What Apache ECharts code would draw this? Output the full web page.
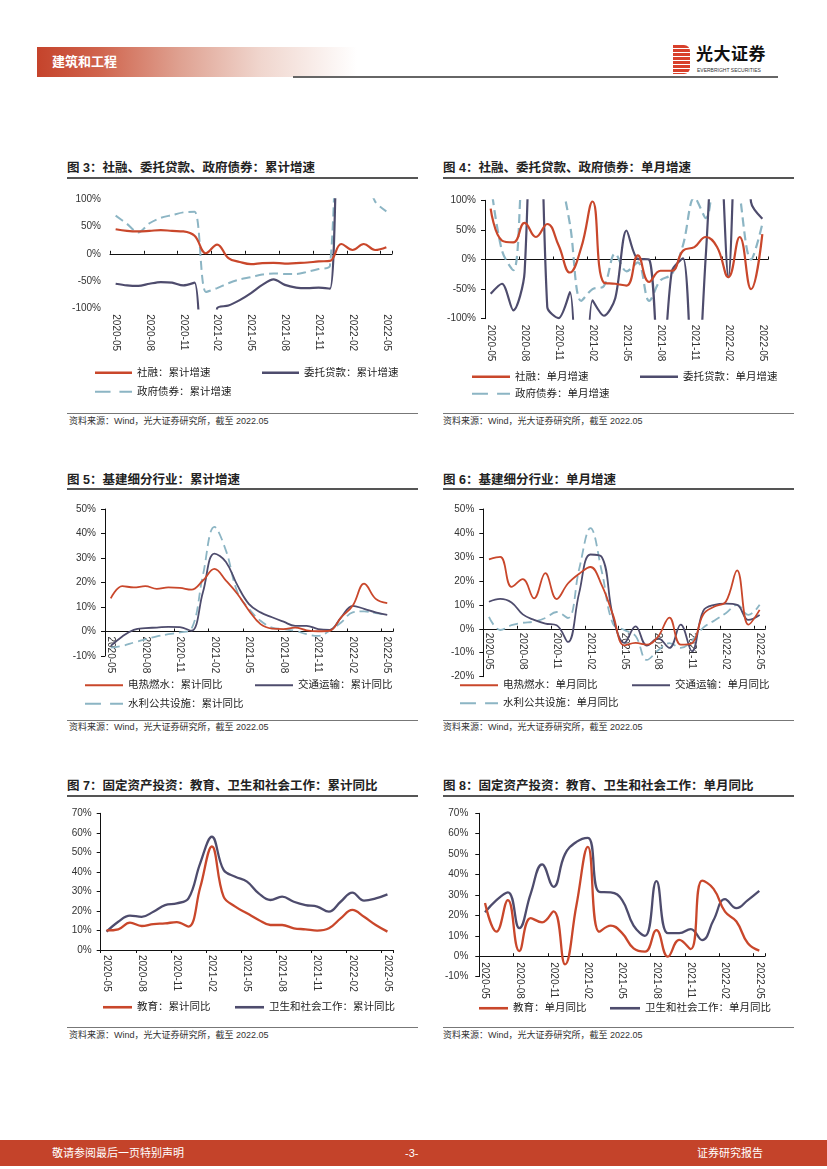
<!DOCTYPE html>
<html><head><meta charset="utf-8">
<script src="https://cdn.jsdelivr.net/npm/echarts/dist/echarts.min.js"></script>
<style>
body{margin:0;background:#fff;}
#page{position:relative;width:827px;height:1169px;overflow:hidden;background:#fff;font-family:'Liberation Sans','Noto Sans CJK SC',sans-serif;}
.a{position:absolute;}
.title{font-size:12.5px;font-weight:bold;color:#222;white-space:nowrap;line-height:14px;}
.rule{height:1.5px;background:#555;}
.srule{height:1px;background:#777;}
.src{font-size:9px;color:#333;white-space:nowrap;line-height:11px;}
.ch{position:absolute;width:360px;height:225px;}
.chr{position:absolute;width:380px;height:225px;}
</style></head>
<body><div id="page">
<!-- header -->
<div class="a" style="left:37px;top:47px;width:320px;height:30px;background:linear-gradient(to right,#C5432B 0%,#D0654E 20%,#DFA292 45%,#F0D6CE 70%,#FFFFFF 100%);"></div>
<div class="a" style="left:52px;top:53px;font-size:13px;font-weight:bold;color:#fff;line-height:17px;">建筑和工程</div>
<div class="a" style="left:293px;top:76px;width:485px;height:1.8px;background:#666;"></div>
<div class="a" style="left:673px;top:45px;width:17px;height:29px;background:repeating-linear-gradient(to bottom,#D8402B 0px,#D8402B 3px,#fff 3px,#fff 4px);border-radius:0 6px 6px 0;"></div>
<div class="a" style="left:696px;top:45px;font-size:17px;font-weight:bold;color:#111;line-height:20px;letter-spacing:0.5px;">光大证券</div>
<div class="a" style="left:697px;top:67px;font-size:5px;color:#333;line-height:6px;white-space:nowrap;">EVERBRIGHT SECURITIES</div>

<!-- titles -->
<div class="a title" style="left:67px;top:161px;">图 3：社融、委托贷款、政府债券：累计增速</div>
<div class="a title" style="left:443px;top:161px;">图 4：社融、委托贷款、政府债券：单月增速</div>
<div class="a rule" style="left:67px;top:177px;width:351px;"></div>
<div class="a rule" style="left:443px;top:177px;width:351px;"></div>
<div class="a srule" style="left:67px;top:413px;width:351px;"></div>
<div class="a srule" style="left:443px;top:413px;width:351px;"></div>
<div class="a src" style="left:69px;top:416px;">资料来源：Wind，光大证券研究所，截至 2022.05</div>
<div class="a src" style="left:443px;top:416px;">资料来源：Wind，光大证券研究所，截至 2022.05</div>

<div class="a title" style="left:67px;top:473px;">图 5：基建细分行业：累计增速</div>
<div class="a title" style="left:443px;top:473px;">图 6：基建细分行业：单月增速</div>
<div class="a rule" style="left:67px;top:488px;width:351px;"></div>
<div class="a rule" style="left:443px;top:488px;width:351px;"></div>
<div class="a srule" style="left:67px;top:720px;width:351px;"></div>
<div class="a srule" style="left:443px;top:720px;width:351px;"></div>
<div class="a src" style="left:69px;top:722px;">资料来源：Wind，光大证券研究所，截至 2022.05</div>
<div class="a src" style="left:443px;top:722px;">资料来源：Wind，光大证券研究所，截至 2022.05</div>

<div class="a title" style="left:67px;top:779px;">图 7：固定资产投资：教育、卫生和社会工作：累计同比</div>
<div class="a title" style="left:443px;top:779px;">图 8：固定资产投资：教育、卫生和社会工作：单月同比</div>
<div class="a rule" style="left:67px;top:795px;width:351px;"></div>
<div class="a rule" style="left:443px;top:795px;width:351px;"></div>
<div class="a srule" style="left:67px;top:1027px;width:351px;"></div>
<div class="a srule" style="left:443px;top:1027px;width:351px;"></div>
<div class="a src" style="left:69px;top:1030px;">资料来源：Wind，光大证券研究所，截至 2022.05</div>
<div class="a src" style="left:443px;top:1030px;">资料来源：Wind，光大证券研究所，截至 2022.05</div>

<div id="c3" class="ch" style="left:60px;top:185px;"></div>
<div id="c4" class="chr" style="left:440px;top:185px;"></div>
<div id="c5" class="ch" style="left:60px;top:495px;"></div>
<div id="c6" class="chr" style="left:440px;top:495px;"></div>
<div id="c7" class="ch" style="left:60px;top:800px;"></div>
<div id="c8" class="chr" style="left:440px;top:800px;"></div>

<!-- footer -->
<div class="a" style="left:0;top:1140px;width:827px;height:26px;background:#C4432A;"></div>
<div class="a" style="left:52px;top:1146px;font-size:11px;color:#fff;line-height:14px;">敬请参阅最后一页特别声明</div>
<div class="a" style="left:405px;top:1146px;font-size:11px;color:#fff;line-height:14px;">-3-</div>
<div class="a" style="left:697px;top:1146px;font-size:11px;color:#fff;line-height:14px;">证券研究报告</div>
</div>
<script>
// ---------- data ----------
const months = ['2020-05','2020-06','2020-07','2020-08','2020-09','2020-10','2020-11','2020-12','2021-01','2021-02','2021-03','2021-04','2021-05','2021-06','2021-07','2021-08','2021-09','2021-10','2021-11','2021-12','2022-01','2022-02','2022-03','2022-04','2022-05'];

const c3Names = ['社融：累计增速','委托贷款：累计增速','政府债券：累计增速'];
const c3Social  = [45,42,41,42,43.5,42,41,33,1,17,-8,-15,-19,-17,-16.5,-18,-17,-16,-14,-13,18,7,18,7,12];
const c3Entrust = [-55,-58,-59,-55,-52,-53,-58,-53,-400,-100,-95,-85,-72,-57,-47,-57,-62,-63,-62,-64,350,300,260,230,210];
const c3Gov     = [70,55,39,56,66,71,76,77,-70,-63,-54,-47,-43,-38,-36,-37,-37,-33,-28,-22,380,280,160,96,78];

const c4Names = ['社融：单月增速','委托贷款：单月增速','政府债券：单月增速'];
const c4Social  = [86,32,29,62,38,60,24,-22,20,98,-39,-41,-44,7,-38,-19,-19,15,21,38,21,-30,38,-50,43];
const c4Entrust = [-58,-41,-86,-21,600,-80,-99,-55,-500,-69,-95,-66,49,1,0,-250,-20,2,-290,5,300,-30,400,97,69];
const c4Gov     = [130,15,-18,200,250,200,150,60,-70,-50,-45,10,-20,-5,-70,-35,-25,25,105,70,200,250,110,0,60];

const c5Names = ['电热燃水：累计同比','交通运输：累计同比','水利公共设施：累计同比'];
const c5Power     = [13.5,18.5,18,18.5,17.4,18,17.8,17.1,20.8,25.6,20.8,15.3,8.5,3,1.2,1,1.6,0.5,0.1,0.3,5.8,10.5,19.5,13.3,11.6];
const c5Transport = [-5.9,-2,0.7,1.4,1.6,1.9,1.8,0.3,16,31.8,28.4,18.8,11.2,7.8,5.8,4,2.3,2.3,1,0.7,5.8,10.5,9.2,7.8,6.8];
const c5Water     = [-6.6,-5.9,-4.5,-3.2,-2,-1.1,-0.4,1,23,42.7,33,16,9.2,4.4,1.6,1,0.3,-1.1,-1.8,0.3,3.7,7.8,8.2,7.5,6.8];

const c6Names = ['电热燃水：单月同比','交通运输：单月同比','水利公共设施：单月同比'];
const c6Power     = [29,30,17.5,20.7,12.7,23.2,12.4,18.9,23,25.8,18.2,5.8,-6.9,-5.9,-6.6,-3.2,4.7,-6.6,-6,6,9.3,11.3,24.4,1.7,7.9];
const c6Transport = [11.3,12.5,11,6,3.7,2.2,1.5,-5.5,15,31,30,5,-5.9,1,-7,-4,-8,1.7,-9.4,7.5,10,10.5,10,3.7,5.8];
const c6Water     = [5,-0.5,1.5,2.5,3,4.5,7,4.5,25,42,24,2,-0.5,-3,-13,-9,-6,-8,-5,0.5,3.5,6.5,10,5.8,10];

const c7Names = ['教育：累计同比','卫生和社会工作：累计同比'];
const c7Edu    = [10,10.6,14,12.3,13.3,13.6,14.3,12,32,53,27.3,22.2,18.8,15.4,12.8,12.8,11.1,10.6,9.9,11.1,16.2,20.5,17,12.8,9.4];
const c7Health = [9.4,14.5,17.6,17,19.6,23,23.9,26.4,44.4,58,41,37.5,35,29,25.6,27.3,24.7,23,22.2,19.6,24.7,29.4,25.3,26.4,28.5];

const c8Names = ['教育：单月同比','卫生和社会工作：单月同比'];
const c8Edu    = [26,12,27.5,2.5,18.6,16.6,22,-4,25,53.6,12,15,11.3,3.8,2.2,12.8,-0.2,8,3.5,37,33,21.8,17,6.3,2.7];
const c8Health = [21.5,27.5,31.3,13.7,30.7,45,34,50,56,58,31.5,31.3,27.5,15,10,36.8,11.3,11.3,13.3,7.9,17.7,28,23.5,27.5,32];

// ---------- styles ----------
const FONT = "'Liberation Sans','Noto Sans CJK SC',sans-serif";
const TXT = '#333';
const RED = '#C9472B', DARK = '#4E4C6D', BLUE = '#8CB5C4';
const ICON_SOLID = 'path://M0,0H100V10H0Z';
const ICON_DASH = 'path://M0,0H42V10H0Z M66,0H100V10H66Z';

function lineSeries(name, data, color, width, dashed, smooth) {
  return {
    name, type:'line', data, xAxisIndex:0, yAxisIndex:0,
    symbol:'none', showSymbol:false, smooth: smooth, clip:true,
    lineStyle:{color, width, type: dashed ? [9,5] : 'solid', cap:'butt'},
    itemStyle:{color},
    emphasis:{disabled:true}, silent:true, z: dashed ? 2 : 3
  };
}

function build(id, cfg) {
  const chart = echarts.init(document.getElementById(id));
  const g = cfg.grid;
  chart.setOption({
    animation:false,
    grid:[
      {left:g[0], top:g[1], width:g[2], height:g[3], containLabel:false, outerBoundsMode:'none'},
      {left:g[0], top:cfg.labelY - 1, width:g[2], height:1, containLabel:false, outerBoundsMode:'none'}
    ],
    xAxis:[
      {type:'category', data:months, boundaryGap:true, position:'bottom', gridIndex:0,
       axisLine:{show:true, onZero:true, lineStyle:{color:'#111', width:1}},
       axisTick:{show:true, interval:2, inside:cfg.tickInside, length:3, lineStyle:{color:'#111'}},
       axisLabel:{show:false}, splitLine:{show:false}},
      {type:'category', data:months, boundaryGap:true, position:'bottom', gridIndex:1,
       axisLine:{show:false, onZero:false}, axisTick:{show:false},
       axisLabel:{interval:2, rotate:-90, margin:cfg.xMargin, fontSize:10, color:TXT, fontFamily:FONT},
       splitLine:{show:false}}
    ],
    yAxis:[
      {type:'value', gridIndex:0, min:cfg.y[0], max:cfg.y[1], interval:cfg.y[2],
       axisLine:{show:cfg.yLine, lineStyle:{color:'#111', width:1}},
       axisTick:{show:cfg.yLine, length:4, lineStyle:{color:'#111'}},
       splitLine:{show:false},
       axisLabel:{formatter:'{value}%', margin:cfg.yMargin, fontSize:10, color:TXT, fontFamily:FONT}},
      {type:'value', gridIndex:1, min:0, max:1, show:false}
    ],
    legend: cfg.legends.map(l => ({
      data:[{name:l.name, icon: l.dash ? ICON_DASH : ICON_SOLID}],
      left:l.left, top:l.top, itemWidth:l.w, itemHeight:l.h || 2.6, symbolKeepAspect:false, padding:0,
      selectedMode:false, textStyle:{fontSize:10.5, color:'#222', fontFamily:FONT}
    })),
    series: cfg.series
  });
}

build('c3', {
  grid:[50,14.3,282,109], labelY:123.3, y:[-100,100,50], yLine:false, yMargin:9, xMargin:6, tickInside:true,
  legends:[{name:c3Names[0],left:35,top:182.5,w:37},{name:c3Names[1],left:202,top:182.5,w:37},{name:c3Names[2],left:35,top:201.5,w:37,dash:true,h:2.2}],
  series:[
    lineSeries(c3Names[2], c3Gov, BLUE, 2, true, 0.3),
    lineSeries(c3Names[1], c3Entrust, DARK, 2.2, false, 0.3),
    lineSeries(c3Names[0], c3Social, RED, 2.2, false, 0.4)
  ]
});
build('c4', {
  grid:[45,15.3,283,118.4], labelY:133.7, y:[-100,100,50], yLine:true, yMargin:9, xMargin:6, tickInside:true,
  legends:[{name:c4Names[0],left:32,top:186.5,w:38},{name:c4Names[1],left:200,top:186.5,w:38},{name:c4Names[2],left:32,top:203.5,w:38,dash:true,h:2.2}],
  series:[
    lineSeries(c4Names[2], c4Gov, BLUE, 2.2, true, 0.35),
    lineSeries(c4Names[1], c4Entrust, DARK, 2.2, false, 0.3),
    lineSeries(c4Names[0], c4Social, RED, 2.2, false, 0.45)
  ]
});
build('c5', {
  grid:[45,14,288,147], labelY:136.5, y:[-10,50,10], yLine:true, yMargin:9, xMargin:5, tickInside:true,
  legends:[{name:c5Names[0],left:25,top:185,w:38,h:2},{name:c5Names[1],left:195,top:185,w:38,h:2},{name:c5Names[2],left:25,top:203.5,w:38,dash:true,h:2}],
  series:[
    lineSeries(c5Names[2], c5Water, BLUE, 1.8, true, 0.4),
    lineSeries(c5Names[1], c5Transport, DARK, 1.8, false, 0.4),
    lineSeries(c5Names[0], c5Power, RED, 1.8, false, 0.4)
  ]
});
build('c6', {
  grid:[43.3,14,282,167.7], labelY:133.8, y:[-20,50,10], yLine:true, yMargin:9, xMargin:4, tickInside:true,
  legends:[{name:c6Names[0],left:20,top:185,w:38,h:2},{name:c6Names[1],left:192,top:185,w:38,h:2},{name:c6Names[2],left:20,top:203,w:38,dash:true,h:2}],
  series:[
    lineSeries(c6Names[2], c6Water, BLUE, 1.8, true, 0.4),
    lineSeries(c6Names[1], c6Transport, DARK, 1.8, false, 0.4),
    lineSeries(c6Names[0], c6Power, RED, 1.8, false, 0.4)
  ]
});
build('c7', {
  grid:[40.7,13.3,292.6,136.7], labelY:150, y:[0,70,10], yLine:true, yMargin:9, xMargin:5, tickInside:false,
  legends:[{name:c7Names[0],left:43,top:202,w:29},{name:c7Names[1],left:175,top:202,w:29}],
  series:[
    lineSeries(c7Names[1], c7Health, DARK, 2.3, false, 0.4),
    lineSeries(c7Names[0], c7Edu, RED, 2.3, false, 0.4)
  ]
});
build('c8', {
  grid:[39.3,13.3,285.7,163.3], labelY:156.2, y:[-10,70,10], yLine:true, yMargin:11, xMargin:6, tickInside:true,
  legends:[{name:c8Names[0],left:39,top:203,w:29},{name:c8Names[1],left:170,top:203,w:30}],
  series:[
    lineSeries(c8Names[1], c8Health, DARK, 2.3, false, 0.45),
    lineSeries(c8Names[0], c8Edu, RED, 2.3, false, 0.45)
  ]
});
</script>
</body></html>
